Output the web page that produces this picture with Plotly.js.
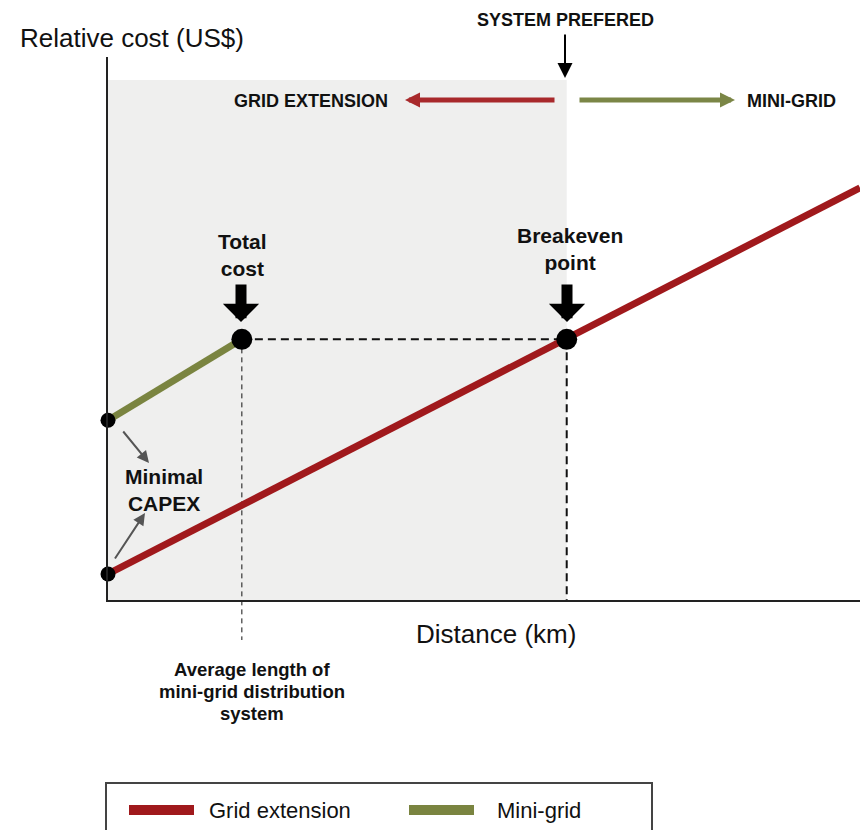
<!DOCTYPE html>
<html>
<head>
<meta charset="utf-8">
<script src="https://cdn.plot.ly/plotly-3.0.1.min.js"></script>
<style>
  html, body { margin: 0; padding: 0; background: #ffffff; }
  #chart { width: 860px; height: 830px; }
</style>
</head>
<body>
<div id="chart"></div>
<script>
// conceptual values (0-100 scale on both axes)
const gridDistance = [0, 100];
const gridCost = [4.8, 75.9];
const miniDistance = [0, 17.8];
const miniCost = [33.1, 48];
const capexDistance = [0, 0];
const capexCost = [4.8, 33.1];
const keyDistance = [17.8, 61];
const keyCost = [48, 48];
const seriesNames = ['Grid extension', 'Mini-grid'];

const red = '#A0191C';
const green = '#7A8440';
const font = 'Liberation Sans, Arial, sans-serif';

// plot area in page pixels
const plotLeft = 108;
const plotRight = 860;
const plotTop = 57;
const plotBottom = 600;

function px(x) {
  return (x - plotLeft) / (plotRight - plotLeft);
}

function py(y) {
  return (plotBottom - y) / (plotBottom - plotTop);
}

function label(text, x, y, size, opts = {}) {
  return Object.assign({
    text,
    x: px(x),
    y: py(y),
    xref: 'paper',
    yref: 'paper',
    showarrow: false,
    xanchor: 'center',
    yanchor: 'middle',
    font: { family: font, size, color: '#111111' },
  }, opts);
}

function arrow(tipX, tipY, tailX, tailY, color, width, head, size) {
  return {
    text: '',
    x: px(tipX),
    y: py(tipY),
    xref: 'paper',
    yref: 'paper',
    ax: tailX - tipX,
    ay: tailY - tipY,
    showarrow: true,
    arrowcolor: color,
    arrowwidth: width,
    arrowhead: head,
    arrowsize: size,
    standoff: 0,
  };
}

const traces = [
  {
    x: keyDistance,
    y: keyCost,
    type: 'scatter',
    mode: 'lines',
    line: { color: '#111111', width: 2, dash: '8px,5px' },
    hoverinfo: 'skip',
  },
  {
    name: seriesNames[0],
    x: gridDistance,
    y: gridCost,
    type: 'scatter',
    mode: 'lines',
    line: { color: red, width: 7 },
  },
  {
    name: seriesNames[1],
    x: miniDistance,
    y: miniCost,
    type: 'scatter',
    mode: 'lines',
    line: { color: green, width: 7 },
  },
  {
    x: capexDistance,
    y: capexCost,
    type: 'scatter',
    mode: 'markers',
    marker: { color: '#000000', size: 15 },
    cliponaxis: false,
  },
  {
    x: keyDistance,
    y: keyCost,
    type: 'scatter',
    mode: 'markers',
    marker: { color: '#000000', size: 21 },
    cliponaxis: false,
  },
];

const breakevenX = keyDistance[1] / 100;
const totalX = keyDistance[0] / 100;
const keyY = keyCost[0] / 100;

const shapes = [
  {
    type: 'rect',
    xref: 'paper',
    yref: 'paper',
    x0: 0,
    x1: breakevenX,
    y0: 0,
    y1: py(80),
    fillcolor: '#EFEFEE',
    line: { width: 0 },
    layer: 'below',
  },
  {
    type: 'line',
    xref: 'paper',
    yref: 'paper',
    x0: totalX,
    x1: totalX,
    y0: keyY,
    y1: py(640),
    line: { color: '#111111', width: 1, dash: '5px,4px' },
    layer: 'below',
  },
  {
    type: 'line',
    xref: 'paper',
    yref: 'paper',
    x0: breakevenX,
    x1: breakevenX,
    y0: keyY,
    y1: 0,
    line: { color: '#111111', width: 2, dash: '8px,5px' },
    layer: 'below',
  },
  // legend box
  {
    type: 'rect',
    xref: 'paper',
    yref: 'paper',
    x0: px(106),
    x1: px(652),
    y0: py(783),
    y1: py(840),
    line: { color: '#444444', width: 2 },
  },
  {
    type: 'line',
    xref: 'paper',
    yref: 'paper',
    x0: px(129),
    x1: px(194),
    y0: py(810),
    y1: py(810),
    line: { color: red, width: 10 },
  },
  {
    type: 'line',
    xref: 'paper',
    yref: 'paper',
    x0: px(409),
    x1: px(474),
    y0: py(810),
    y1: py(810),
    line: { color: green, width: 10 },
  },
];

const annotations = [
  label('Relative cost (US$)', 18, 38, 26, { xanchor: 'left' }),
  label('Distance (km)', 496, 634, 26),
  label('<b>SYSTEM PREFERED</b>', 565, 20, 18),
  arrow(565, 78, 565, 33, '#000000', 2, 2, 1.5),
  arrow(405, 100, 556, 100, '#A8292B', 5, 2, 0.6),
  arrow(735, 100, 578, 100, '#7B8646', 5, 2, 0.6),
  label('<b>GRID EXTENSION</b>', 390, 101, 18, { xanchor: 'right' }),
  label('<b>MINI-GRID</b>', 745, 101, 18, { xanchor: 'left' }),
  label('<b>Total<br>cost</b>', 242, 255, 21),
  label('<b>Breakeven<br>point</b>', 570, 249, 21),
  arrow(241, 322, 241, 283, '#000000', 11, 1, 0.55),
  arrow(567, 322, 567, 283, '#000000', 11, 1, 0.55),
  label('<b>Minimal<br>CAPEX</b>', 164, 490, 21),
  arrow(149, 463, 122, 430, '#555555', 2, 2, 1.2),
  arrow(145, 513, 114, 560, '#555555', 2, 2, 1.2),
  label('<b>Average length of</b>', 252, 670, 18.5),
  label('<b>mini-grid distribution</b>', 252, 691, 18.5),
  label('<b>system</b>', 252, 713, 18.5),
  label(seriesNames[0], 207, 810, 22, { xanchor: 'left' }),
  label(seriesNames[1], 495, 810, 22, { xanchor: 'left' }),
];

Plotly.newPlot('chart', traces, {
  width: 860,
  height: 830,
  paper_bgcolor: '#ffffff',
  plot_bgcolor: '#ffffff',
  showlegend: false,
  margin: { l: plotLeft, r: 860 - plotRight, t: plotTop, b: 830 - plotBottom, pad: 0 },
  xaxis: {
    range: [0, 100],
    showgrid: false,
    zeroline: false,
    showticklabels: false,
    ticks: '',
    showline: true,
    linecolor: '#222222',
    linewidth: 2,
    fixedrange: true,
  },
  yaxis: {
    range: [0, 100],
    showgrid: false,
    zeroline: false,
    showticklabels: false,
    ticks: '',
    showline: true,
    linecolor: '#222222',
    linewidth: 2,
    fixedrange: true,
  },
  shapes,
  annotations,
}, {
  displayModeBar: false,
  staticPlot: true,
});
</script>
</body>
</html>
